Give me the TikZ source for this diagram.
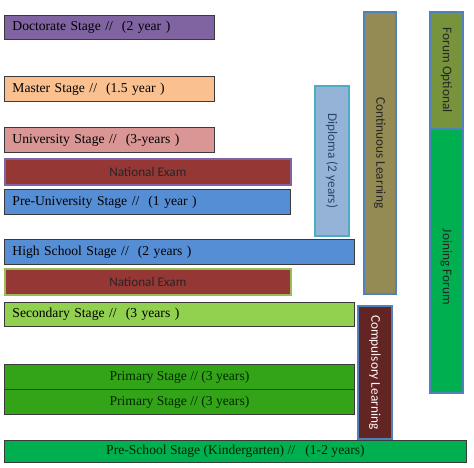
\documentclass[tikz,border=0pt]{standalone}
\usepackage{fontspec}
\setmainfont{Liberation Serif}
\newfontfamily\calibri{Carlito}
\definecolor{cDoc}{HTML}{8064A2}
\definecolor{cMas}{HTML}{FAC090}
\definecolor{cUni}{HTML}{D99694}
\definecolor{cNat}{HTML}{953735}
\definecolor{cBlue}{HTML}{558ED5}
\definecolor{cSec}{HTML}{92D050}
\definecolor{cPrim}{HTML}{33A317}
\definecolor{cPre}{HTML}{00B050}
\definecolor{cComp}{HTML}{632523}
\definecolor{cDip}{HTML}{95B3D7}
\definecolor{cDipB}{HTML}{4BACC6}
\definecolor{cCont}{HTML}{948A54}
\definecolor{cBord}{HTML}{4F81BD}
\definecolor{cFO}{HTML}{77933C}
\definecolor{cEdge}{HTML}{3A3A3A}
\definecolor{cNatLG}{HTML}{9BBB59}
\begin{document}
\begin{tikzpicture}[x=1pt,y=-1pt,
  box/.style={draw=cEdge, line width=0.9pt, inner sep=0pt, anchor=north west},
  leftstage/.style={box, font=\fontsize{13.6}{15}\selectfont, align=left, inner xsep=8pt, text=black},
  midstage/.style={box, font=\fontsize{13.6}{15}\selectfont, align=center, text=green!15!black},
  exam/.style={box, fill=cNat, line width=1.6pt, font=\calibri\fontsize{13.2}{15}\selectfont, text=black!85, align=center},
  vbar/.style={draw=cBord, line width=1.6pt, inner sep=0pt, anchor=north west},
  vtext/.style={rotate=-90, font=\calibri\fontsize{13.3}{15}\selectfont}
]
\useasboundingbox (0,0) rectangle (474,467);
% left stages
\node[leftstage, fill=cDoc, minimum width=210pt, minimum height=24pt, text width=194pt] (doc) at (4,15) {Doctorate Stage //\ \ (2 year )};
\node[leftstage, fill=cMas, minimum width=210pt, minimum height=25pt, text width=194pt] (mas) at (4,76) {Master Stage //\ \ (1.5 year )};
\node[leftstage, fill=cUni, minimum width=210pt, minimum height=25pt, text width=194pt] (uni) at (4,127) {University Stage //\ \ (3-years )};
\node[exam, draw=cDoc, minimum width=286pt, minimum height=26pt] (nat1) at (4,158) {National Exam};
\node[leftstage, fill=cBlue, minimum width=286pt, minimum height=25pt, text width=270pt] (preu) at (4,189) {Pre-University Stage //\ \ (1 year )};
\node[leftstage, fill=cBlue, minimum width=350pt, minimum height=25pt, text width=334pt] (high) at (4,239) {High School Stage //\ \ (2 years )};
\node[exam, draw=cNatLG, minimum width=286pt, minimum height=26pt] (nat2) at (4,268) {National Exam};
\node[leftstage, fill=cSec, minimum width=350pt, minimum height=24pt, text width=334pt] (sec) at (4,302) {Secondary Stage //\ \ (3 years )};
\node[midstage, fill=cPrim, minimum width=350pt, minimum height=25pt] (prim1) at (4,364) {Primary Stage // (3 years)};
\node[midstage, fill=cPrim, minimum width=350pt, minimum height=25pt] (prim2) at (4,389) {Primary Stage // (3 years)};
\node[midstage, fill=cPre, minimum width=462pt, minimum height=22pt] (pre) at (4,440) {Pre-School Stage (Kindergarten) //\ \ \ (1-2 years)};
% vertical bars
\node[vbar, fill=cDip, draw=cDipB, minimum width=34pt, minimum height=150pt] (dip) at (314,85) {};
\node[vtext, text=cBord!55!black] at (dip.center) {Diploma (2 years)};
\node[vbar, fill=cCont, minimum width=32pt, minimum height=282pt] (cont) at (363,11) {};
\node[vtext, text=black!85] at (cont.center) {Continuous Learning};
\node[vbar, fill=cPre, minimum width=33pt, minimum height=264pt] (join) at (429,128) {};
\node[vtext, text=black!85] at ([yshift=-6pt]join.center) {Joining Forum};
\node[vbar, fill=cFO, minimum width=33pt, minimum height=117pt] (fo) at (429,11) {};
\node[vtext, text=black!85] at (fo.center) {Forum Optional};
\node[vbar, fill=cComp, minimum width=34pt, minimum height=133pt] (comp) at (357,305) {};
\node[vtext, text=white!88!pink] at (comp.center) {Compulsory Learning};
\end{tikzpicture}
\end{document}
